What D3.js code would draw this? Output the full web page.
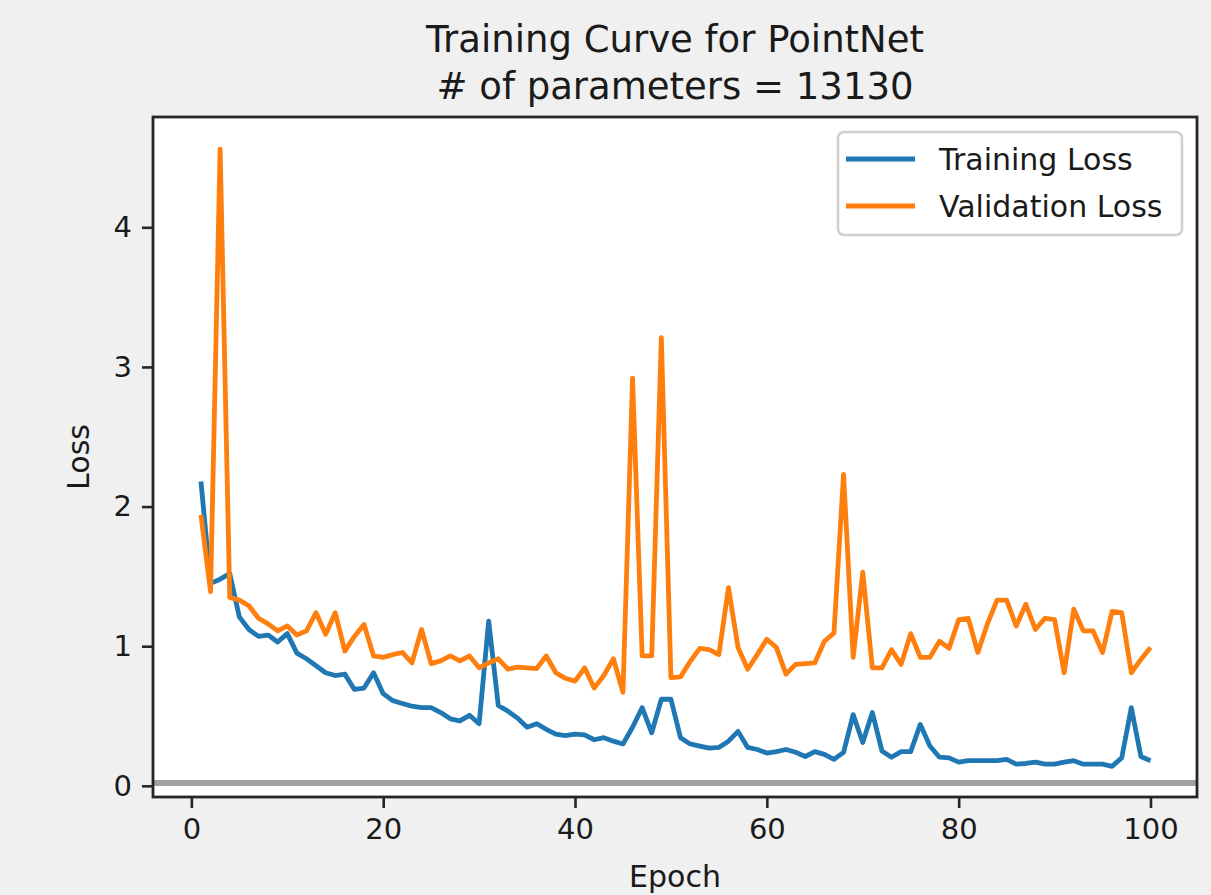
<!DOCTYPE html>
<html>
<head>
<meta charset="utf-8">
<script src="https://d3js.org/d3.v7.min.js"></script>
<style>
  body { margin: 0; background: #f0f0f0; }
  text { font-family: "DejaVu Sans", sans-serif; fill: #1a1a1a; }
</style>
</head>
<body>
<svg id="chart" width="1211" height="895"></svg>
<script>
// loss per epoch, epoch = index + 1
var trainLoss = [
  2.18, 1.45, 1.48, 1.52, 1.21, 1.12, 1.07, 1.08, 1.03, 1.09,
  0.95, 0.91, 0.86, 0.81, 0.79, 0.80, 0.69, 0.70, 0.81, 0.66,
  0.61, 0.59, 0.57, 0.56, 0.56, 0.525, 0.48, 0.465, 0.505, 0.445,
  1.18, 0.575, 0.535, 0.485, 0.42, 0.445, 0.405, 0.37, 0.36, 0.37,
  0.365, 0.33, 0.345, 0.32, 0.30, 0.42, 0.56, 0.38, 0.62, 0.62,
  0.345, 0.30, 0.285, 0.27, 0.275, 0.32, 0.39, 0.275, 0.26, 0.235,
  0.245, 0.26, 0.24, 0.21, 0.245, 0.225, 0.19, 0.24, 0.51, 0.31,
  0.525, 0.25, 0.205, 0.245, 0.245, 0.44, 0.285, 0.205, 0.20, 0.17,
  0.18, 0.18, 0.18, 0.18, 0.19, 0.155, 0.16, 0.17, 0.155, 0.155,
  0.17, 0.18, 0.155, 0.155, 0.155, 0.14, 0.20, 0.56, 0.21, 0.18
];
var valLoss = [
  1.94, 1.39, 4.56, 1.35, 1.33, 1.29, 1.20, 1.16, 1.11, 1.145,
  1.08, 1.11, 1.24, 1.085, 1.24, 0.965, 1.07, 1.155, 0.93, 0.92,
  0.94, 0.955, 0.88, 1.12, 0.875, 0.895, 0.93, 0.895, 0.93, 0.845,
  0.88, 0.91, 0.835, 0.85, 0.845, 0.84, 0.93, 0.81, 0.77, 0.75,
  0.845, 0.70, 0.79, 0.91, 0.67, 2.92, 0.93, 0.93, 3.21, 0.775,
  0.78, 0.89, 0.985, 0.975, 0.94, 1.42, 0.99, 0.835, 0.94, 1.05,
  0.99, 0.80, 0.87, 0.875, 0.88, 1.035, 1.095, 2.23, 0.92, 1.53,
  0.845, 0.845, 0.975, 0.87, 1.09, 0.92, 0.92, 1.035, 0.985, 1.19,
  1.20, 0.955, 1.16, 1.33, 1.33, 1.145, 1.30, 1.12, 1.20, 1.19,
  0.81, 1.265, 1.11, 1.11, 0.955, 1.25, 1.24, 0.81, 0.905, 0.99
];
var seriesNames = ["Training Loss", "Validation Loss"];
var seriesColors = ["#1f77b4", "#ff7f0e"];
var xTicks = [0, 20, 40, 60, 80, 100];
var yTicks = [0, 1, 2, 3, 4];
var refLine = 0.02;

var svg = d3.select("#chart"),
    marginLeft = 153, marginTop = 117,
    width = 1044, height = 680;

var x = d3.scaleLinear().domain([-4.0, 104.85]).range([0, width]);
var y = d3.scaleLinear().domain([-0.08, 4.79]).range([height, 0]);

// title
svg.append("text")
   .attr("x", marginLeft + width / 2).attr("y", 52)
   .attr("text-anchor", "middle").attr("font-size", "37px")
   .text("Training Curve for PointNet");
svg.append("text")
   .attr("x", marginLeft + width / 2).attr("y", 99)
   .attr("text-anchor", "middle").attr("font-size", "37px")
   .text("# of parameters = 13130");

var g = svg.append("g").attr("transform", "translate(" + marginLeft + "," + marginTop + ")");

g.append("rect").attr("width", width).attr("height", height).attr("fill", "white");

g.append("line")
 .attr("x1", 0).attr("x2", width)
 .attr("y1", y(refLine)).attr("y2", y(refLine))
 .attr("stroke", "#a0a0a0").attr("stroke-width", 6);

var line = d3.line()
    .x(function(d, i) { return x(i + 1); })
    .y(function(d) { return y(d); });

[trainLoss, valLoss].forEach(function(s, k) {
  g.append("path").datum(s)
   .attr("fill", "none")
   .attr("stroke", seriesColors[k])
   .attr("stroke-width", 4.8)
   .attr("stroke-linejoin", "round")
   .attr("d", line);
});

// axes
var xAxis = g.append("g")
   .attr("transform", "translate(0," + height + ")")
   .call(d3.axisBottom(x).tickValues(xTicks).tickSize(11).tickPadding(10));
var yAxis = g.append("g")
   .call(d3.axisLeft(y).tickValues(yTicks).tickFormat(d3.format("d"))
           .tickSize(11).tickPadding(10));

[xAxis, yAxis].forEach(function(a) {
  a.select(".domain").remove();
  a.selectAll("line").attr("stroke", "#262626").attr("stroke-width", 2.6);
  a.selectAll("text").attr("font-size", "29px").attr("fill", "#1a1a1a")
   .style("font-family", "DejaVu Sans, sans-serif");
});

// spines
g.append("rect").attr("width", width).attr("height", height)
 .attr("fill", "none").attr("stroke", "#262626").attr("stroke-width", 2.8);

// axis labels
svg.append("text")
   .attr("x", marginLeft + width / 2).attr("y", 887)
   .attr("text-anchor", "middle").attr("font-size", "30px")
   .text("Epoch");
svg.append("text")
   .attr("transform", "translate(89," + (marginTop + height / 2) + ") rotate(-90)")
   .attr("text-anchor", "middle").attr("font-size", "30px")
   .text("Loss");

// legend
var legend = svg.append("g").attr("transform", "translate(838,132)");
legend.append("rect")
      .attr("width", 344).attr("height", 103).attr("rx", 6)
      .attr("fill", "white").attr("fill-opacity", 0.8)
      .attr("stroke", "#d0d0d0").attr("stroke-width", 2.5);
seriesNames.forEach(function(name, k) {
  var ly = 27 + k * 47;
  legend.append("line")
        .attr("x1", 8).attr("x2", 77).attr("y1", ly).attr("y2", ly)
        .attr("stroke", seriesColors[k]).attr("stroke-width", 4.8);
  legend.append("text")
        .attr("x", 101).attr("y", ly + 11)
        .attr("font-size", "30px")
        .text(name);
});
</script>
</body>
</html>
